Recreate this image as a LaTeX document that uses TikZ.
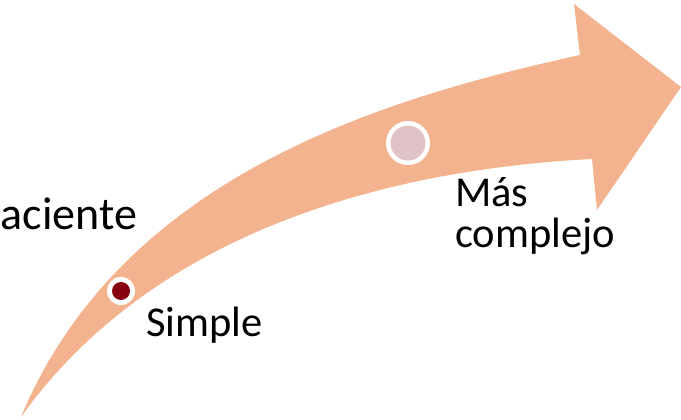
\documentclass[tikz,border=0pt]{standalone}
\usepackage{fontspec}
\setmainfont{Carlito}
\definecolor{arrowfill}{HTML}{F4B38F}
\definecolor{dotred}{HTML}{87000F}
\definecolor{dotpink}{HTML}{DFC3C6}
\tikzset{
  lbl/.style={anchor=base west, inner sep=0pt, font=\fontsize{42.5}{44}\selectfont, text=black},
  ring/.style={circle, fill=white, inner sep=0pt},
}
\begin{document}
\begin{tikzpicture}[x=1pt,y=1pt]
\useasboundingbox (0,0) rectangle (681,420);
\coordinate (tail) at (21,3);
\coordinate (hu) at (580,365);
\coordinate (hl) at (592,261);
\coordinate (bt) at (574,416);
\coordinate (tip) at (681,333);
\coordinate (bb) at (597,210);
\fill[arrowfill] (tail) .. controls (121,243) and (380,321) .. (hu)
  -- (bt) -- (tip) -- (bb) -- (hl)
  .. controls (380,250) and (151,185) .. (tail) -- cycle;
\node[ring, minimum size=28pt] (c1) at (121,129) {};
\node[circle, fill=dotred, inner sep=0pt, minimum size=18pt] (c1i) at (c1) {};
\node[ring, minimum size=44pt] (c2) at (408,277) {};
\node[circle, fill=dotpink, inner sep=0pt, minimum size=35pt] (c2i) at (c2) {};
\node[lbl, font=\fontsize{46}{49}\selectfont] (t1) at (0.5,190) {aciente};
\node[lbl] (t2) at (146,83) {Simple};
\node[lbl] (t3) at (455,213) {Más};
\node[lbl] (t4) at (455,172) {complejo};
\end{tikzpicture}
\end{document}
